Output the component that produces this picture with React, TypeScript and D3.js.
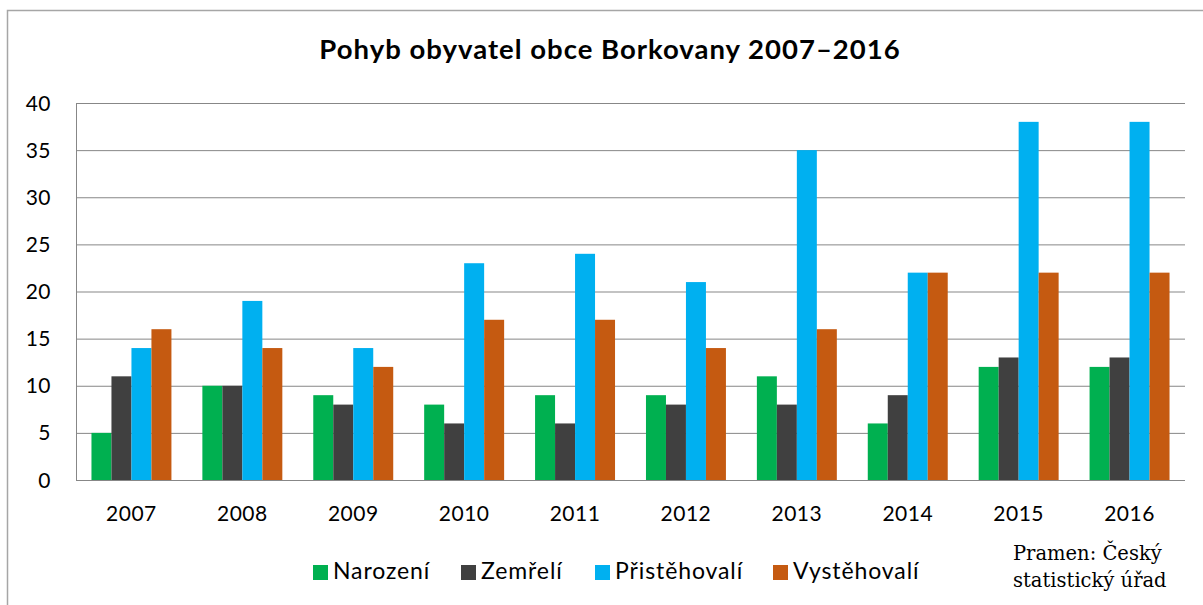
import React from "react";
import * as d3 from "d3";

const years = ["2007", "2008", "2009", "2010", "2011", "2012", "2013", "2014", "2015", "2016"];
const seriesNames = ["Narození", "Zemřelí", "Přistěhovalí", "Vystěhovalí"];
const narozeni = [5, 10, 9, 8, 9, 9, 11, 6, 12, 12];
const zemreli = [11, 10, 8, 6, 6, 8, 8, 9, 13, 13];
const pristehovali = [14, 19, 14, 23, 24, 21, 35, 22, 38, 38];
const vystehovali = [16, 14, 12, 17, 17, 14, 16, 22, 22, 22];
const yTicks = [0, 5, 10, 15, 20, 25, 30, 35, 40];
const colors = ["#00B050", "#404040", "#00B0F0", "#C55A11"];

const W = 1203;
const H = 605;
const left = 76;
const right = 1185;
const top = 103;
const bottom = 480;
const font = "Lato, 'Open Sans', sans-serif";

export default function App() {
  const allSeries = [narozeni, zemreli, pristehovali, vystehovali];
  const x0 = d3.scaleBand<string>().domain(years).range([left, right]).paddingInner(0.279).paddingOuter(0.1395);
  const x1 = d3.scaleBand<string>().domain(seriesNames).range([0, x0.bandwidth()]).padding(0);
  const y = d3.scaleLinear().domain([0, 40]).range([bottom, top]);
  const xc = d3.scaleBand<string>().domain(years).range([left, right]);

  const legendX = [313, 461, 595, 773];

  return (
    <svg width={W} height={H} style={{ position: "absolute", left: 0, top: 0, background: "#fff" }}>
      <rect x={7.5} y={10.5} width={W + 10} height={H + 10} fill="#fff" stroke="#A6A6A6" strokeWidth={1.5} />
      <text x={610} y={59} textAnchor="middle" fontFamily={font} fontWeight="bold" fontSize={27.5} letterSpacing={1} fill="#000">
        Pohyb obyvatel obce Borkovany 2007–2016
      </text>
      {yTicks.map((t) => (
        <g key={t}>
          {t > 0 && (
            <line x1={left} x2={right} y1={y(t) + 0.5} y2={y(t) + 0.5} stroke="#878787" strokeWidth={1} />
          )}
          <text x={51} y={y(t) + 7.5} textAnchor="end" fontFamily={font} fontSize={21} letterSpacing={0.5} fill="#000">
            {t}
          </text>
        </g>
      ))}
      {years.map((yr, i) => (
        <g key={yr}>
          {allSeries.map((s, j) => (
            <rect
              key={j}
              x={(x0(yr) as number) + (x1(seriesNames[j]) as number)}
              y={y(s[i])}
              width={x1.bandwidth()}
              height={bottom - y(s[i])}
              fill={colors[j]}
            />
          ))}
          <text x={(xc(yr) as number) + xc.bandwidth() / 2} y={521} textAnchor="middle" fontFamily={font} fontSize={21} letterSpacing={0.5} fill="#000">
            {yr}
          </text>
        </g>
      ))}
      <line x1={left + 0.5} x2={left + 0.5} y1={top} y2={bottom} stroke="#878787" strokeWidth={1} />
      <line x1={left} x2={right} y1={bottom + 0.5} y2={bottom + 0.5} stroke="#878787" strokeWidth={1} />
      {seriesNames.map((n, j) => (
        <g key={n}>
          <rect x={legendX[j]} y={565} width={15} height={15} fill={colors[j]} />
          <text x={legendX[j] + 20} y={579} fontFamily={font} fontSize={23} letterSpacing={0.9} fill="#000">
            {n}
          </text>
        </g>
      ))}
      <text fontFamily="'DejaVu Serif', serif" fontSize={19.5} fill="#000">
        <tspan x={1013} y={560}>Pramen: Český</tspan>
        <tspan x={1013} y={587}>statistický úřad</tspan>
      </text>
    </svg>
  );
}
